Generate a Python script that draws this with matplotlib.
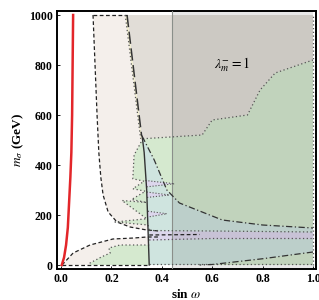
import numpy as np
import matplotlib
matplotlib.use("Agg")
import matplotlib.pyplot as plt

plt.rcParams['font.family'] = ['Liberation Serif', 'DejaVu Serif']
plt.rcParams['mathtext.fontset'] = 'stix'

# limite rouge (courbe pleine)
red_sin = [0.003, 0.012, 0.020, 0.027, 0.032, 0.037, 0.041, 0.044, 0.046, 0.048]
red_m = [0, 30, 80, 150, 250, 350, 450, 600, 800, 1000]

# bord tireté haut (zone beige)
up_sin = [0.127, 0.135, 0.143, 0.150, 0.158, 0.167, 0.187, 0.222, 0.274, 0.34, 0.39]
up_m = [1000, 800, 600, 450, 350, 280, 212, 172, 152, 140, 136]
# bord tireté bas (zone beige)
low_sin = [0.004, 0.048, 0.115, 0.206, 0.29, 0.34, 0.39]
low_m = [0, 48, 80, 104, 108, 112, 112]

# zone grise (haut droite)
gray_left_sin = [0.262, 0.32]
gray_left_m = [1000, 515]
gray_bot_sin = [0.325, 0.56, 0.60, 0.74, 0.79, 0.85, 1.0]
gray_bot_m = [505, 520, 580, 600, 700, 768, 820]

# zone verte : bord gauche (doigts), du haut vers le bas
green_left_sin = [0.325, 0.29, 0.285, 0.33, 0.285, 0.335, 0.28, 0.34, 0.242, 0.34,
                  0.214, 0.345, 0.35]
green_left_m = [505, 440, 345, 335, 305, 295, 262, 250, 258, 185, 172, 160, 140]
# zone verte en bas à gauche
green_bot_sin = [0.35, 0.234, 0.19, 0.195, 0.16, 0.115, 0.115]
green_bot_m = [80, 80, 68, 48, 32, 8, 0]

# zone bleue
blue_left_sin = [0.35, 0.345, 0.34, 0.33, 0.322]
blue_left_m = [0, 150, 300, 450, 515]
blue_up_sin = [0.322, 0.37, 0.42, 0.47, 0.64, 0.8, 1.0]
blue_up_m = [515, 420, 300, 248, 180, 160, 148]
blue_low_sin = [1.0, 0.8, 0.6, 0.55]
blue_low_m = [52, 25, 2, 0]

# bande violette
purple_sin = [0.35, 0.6, 1.0]
purple_top = [138, 136, 132]
purple_bot = [100, 106, 106]
# doigts violets
pfinger1_sin = [0.335, 0.45, 0.335]
pfinger1_m = [338, 325, 312]
pfinger2_sin = [0.34, 0.43, 0.34]
pfinger2_m = [292, 280, 270]
pfinger3_sin = [0.345, 0.42, 0.345]
pfinger3_m = [215, 205, 192]

band_sin = 0.44

c_beige = '#f4efeb'
c_gray = '#e1ddd7'
c_yellow = '#f3f0cf'
c_green = '#d5e9cf'
c_blue = '#cfe4df'
c_purple = '#dcd6ec'

fig = plt.figure(figsize=(3.19, 3.0), dpi=100)
ax = fig.add_axes([57 / 319, 1 - 269 / 300, 259 / 319, 258 / 300])

# zone beige
ax.fill(up_sin + [1.0, 1.0], up_m + [up_m[-1], 1000], color=c_beige, lw=0, zorder=1)
ax.fill(low_sin + [1.0, 1.0], low_m + [low_m[-1], 0], color=c_beige, lw=0, zorder=1)

# zone grise
gx = gray_left_sin + gray_bot_sin + [1.0]
gy = gray_left_m + gray_bot_m + [1000]
ax.fill(gx, gy, color=c_gray, lw=0, zorder=2)
yx = [gray_left_sin[0] - 0.007, gray_left_sin[0], gray_left_sin[1], gray_left_sin[1] + 0.005,
      gray_left_sin[1] - 0.004]
yy = [1000, 1000, gray_left_m[1], 505, 505]
ax.fill(yx, yy, color=c_yellow, lw=0, zorder=2)

# zone verte (un seul polygone)
vx = gray_bot_sin + [1.0] + green_bot_sin[::-1] + green_left_sin[::-1]
vy = gray_bot_m + [0] + green_bot_m[::-1] + green_left_m[::-1]
ax.fill(vx, vy, color=c_green, lw=0, zorder=3)

# zone bleue
bx = blue_left_sin + blue_up_sin + blue_low_sin
by = blue_left_m + blue_up_m + blue_low_m
ax.fill(bx, by, color=c_blue, lw=0, zorder=4)

# bande violette
ax.fill_between(purple_sin, purple_bot, purple_top, color=c_purple, lw=0, zorder=5)
for fx, fy in [(pfinger1_sin, pfinger1_m), (pfinger2_sin, pfinger2_m), (pfinger3_sin, pfinger3_m)]:
    ax.fill(fx, fy, color=c_purple, lw=0, zorder=5)
    ax.plot(fx, fy, color='#555555', ls=':', lw=0.8, zorder=7)

# bande sombre à droite
ax.axvspan(band_sin, 1.0, color='black', alpha=0.09, lw=0, zorder=6)
ax.axvline(band_sin, color='#8a8f8a', lw=0.8, zorder=6)

# contours
dash = dict(color='#222222', lw=0.9, ls=(0, (3, 2)), zorder=8)
dot = dict(color='#555555', lw=0.9, ls=(0, (1, 2)), zorder=8)
dashdot = dict(color='#333333', lw=0.9, ls=(0, (5, 2, 1, 2)), zorder=8)

ax.plot(up_sin, up_m, **dash)
ax.plot(low_sin, low_m, **dash)
ax.plot([low_sin[0], 0.35], [0, 0], **dash)
ax.plot([up_sin[0], gray_left_sin[0]], [1000, 1000], **dash)
ax.plot([0.35, 0.55], [120, 122], **dash)

ax.plot(gray_left_sin, gray_left_m, color='#333333', lw=1.1, ls=(0, (8, 3)), zorder=8)
ax.plot([gray_left_sin[0] - 0.007, gray_left_sin[1] - 0.004], [1000, 505], **dot)
ax.plot(gray_bot_sin, gray_bot_m, **dot)
ax.plot(green_left_sin, green_left_m, **dot)
ax.plot(green_bot_sin, green_bot_m, **dot)
ax.plot(purple_sin, purple_top, **dot)
ax.plot(purple_sin, purple_bot, **dot)
ax.plot([0.35, 1.0], [6, 6], **dot)
ax.plot([1.0, 1.0], [0, 1000], **dot)

ax.plot(blue_left_sin, blue_left_m, color='#333333', lw=1.0, zorder=8)
ax.plot(blue_up_sin, blue_up_m, **dashdot)
ax.plot(blue_low_sin, blue_low_m, **dashdot)

ax.plot(red_sin, red_m, color='#e3262a', lw=1.8, zorder=9)

ax.text(0.68, 800, r'$\lambda_m^{-}=1$', fontsize=10, ha='center', va='center', zorder=10)

ax.set_xlim(-0.016, 1.012)
ax.set_ylim(-16, 1016)
ax.set_xticks([0, 0.2, 0.4, 0.6, 0.8, 1.0])
ax.set_xticklabels(['0.0', '0.2', '0.4', '0.6', '0.8', '1.0'])
ax.set_yticks([0, 200, 400, 600, 800, 1000])
ax.tick_params(direction='in', length=2, width=0.6, labelsize=8.5, pad=3)
for lab in ax.get_xticklabels() + ax.get_yticklabels():
    lab.set_fontweight('bold')
for sp in ax.spines.values():
    sp.set_linewidth(1.4)

ax.set_xlabel(r'sin $\omega$', fontsize=9.5, fontweight='bold', labelpad=2)
ax.set_ylabel(r'$m_\sigma$ (GeV)', fontsize=9.5, fontweight='bold', labelpad=2)

fig.savefig('out.png', dpi=100)
